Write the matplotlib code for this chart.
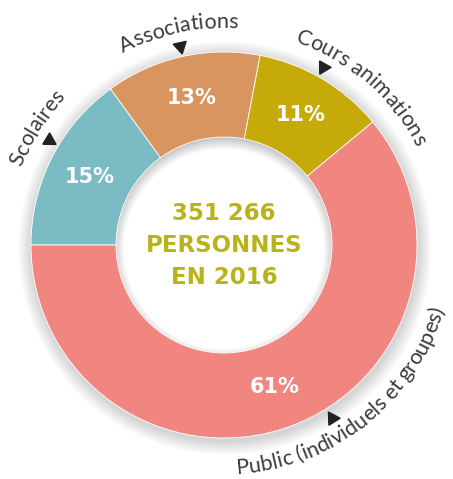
import numpy as np
import matplotlib.pyplot as plt
from matplotlib.patches import Circle, Wedge

# Data
categories = ['Scolaires', 'Associations', 'Cours animations', 'Public (individuels et groupes)']
shares = [15, 13, 11, 61]
colors = ['#7bbbc4', '#d9955f', '#c5aa0a', '#f18580']
center_lines = ['351 266', 'PERSONNES', 'EN 2016']

# Layout (pixel units)
W, H = 453, 479
cx, cy = 224, H - 245
r_out, r_in = 193, 108
label_angles = [148, 102, 49, -51.5]
label_radii = [217, 217, 215, 229]
label_clockwise = [True, True, True, False]
arrow_angles = [149, 102.5, 61, -58]

fig = plt.figure(figsize=(W / 100, H / 100), dpi=100)
ax = fig.add_axes([0, 0, 1, 1])

# soft outer shadow
for k in range(14):
    ax.add_patch(Circle((cx + 1, cy - 3), r_out + 14 - k, color='#000000',
                        alpha=0.012, lw=0, zorder=0))

wedges, _, pcts = ax.pie(shares, colors=colors, startangle=180, counterclock=False,
                         radius=r_out, center=(cx, cy), frame=True,
                         wedgeprops=dict(width=r_out - r_in, edgecolor='white', linewidth=0.6),
                         autopct='%d%%', pctdistance=0.78,
                         textprops=dict(color='white', fontsize=15, fontweight='bold',
                                        family=['DejaVu Sans']))
for w in wedges:
    w.set_zorder(2)
for t in pcts:
    t.set_zorder(3)
ax.set_xlim(0, W)
ax.set_ylim(0, H)
ax.set_aspect('equal')
ax.axis('off')

# white hole, then shadow cast into it from above
ax.add_patch(Circle((cx, cy), r_in, color='white', lw=0, zorder=1.5))
for k in range(12):
    ax.add_patch(Wedge((cx, cy - 4), r_in + 4, 0, 360, width=12 - k, color='#000000',
                       alpha=0.018, lw=0, zorder=1.8))

# centre text
for i, line in enumerate(center_lines):
    ax.text(cx, cy + 32 - 32 * i, line, ha='center', va='center', color='#b9b31a',
            fontsize=16.5, fontweight='bold', family=['DejaVu Sans'], zorder=4)

fig.canvas.draw()
renderer = fig.canvas.get_renderer()
label_kw = dict(fontsize=15.5, fontweight='normal', color='#3a3a3a', family=['Lato', 'DejaVu Sans'])


def text_width(s):
    t = ax.text(0, 0, s + '|', **label_kw)
    w1 = t.get_window_extent(renderer).width
    t.remove()
    t = ax.text(0, 0, '|', **label_kw)
    w0 = t.get_window_extent(renderer).width
    t.remove()
    return w1 - w0


def arc_text(text, r, center_deg, clockwise):
    pre = [text_width(text[:i]) if i else 0.0 for i in range(len(text) + 1)]
    total = pre[-1]
    for i, ch in enumerate(text):
        if ch == ' ':
            continue
        off = (pre[i] + pre[i + 1]) / 2 - total / 2
        d = np.degrees(off / r)
        if clockwise:
            ang = center_deg - d
            rot = ang - 90
        else:
            ang = center_deg + d
            rot = ang + 90
        a = np.radians(ang)
        ax.text(cx + r * np.cos(a), cy + r * np.sin(a), ch, rotation=rot,
                rotation_mode='anchor', ha='center', va='baseline', zorder=5, **label_kw)


for name, ang, r, cw in zip(categories, label_angles, label_radii, label_clockwise):
    arc_text(name, r, ang, cw)

# arrow heads pointing at the ring
for ang in arrow_angles:
    a = np.radians(ang)
    ax.plot(cx + 204 * np.cos(a), cy + 204 * np.sin(a), marker=(3, 0, ang + 90),
            markersize=11, color='#222222', zorder=5)

fig.savefig('out.png', dpi=100)
